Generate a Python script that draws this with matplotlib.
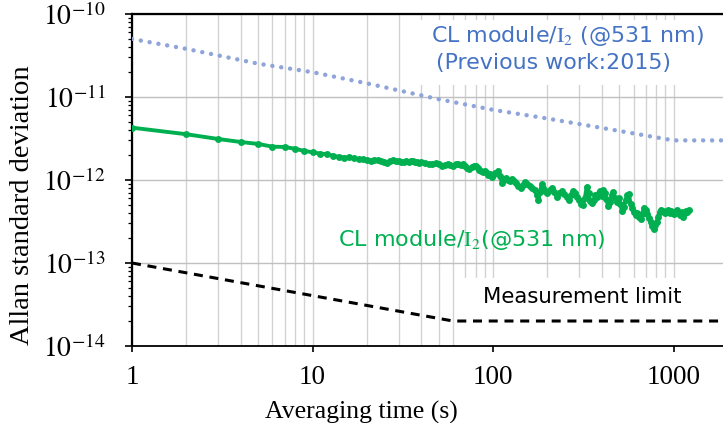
import matplotlib
matplotlib.use("Agg")
import matplotlib.pyplot as plt
from matplotlib.patches import Rectangle
from matplotlib.ticker import LogLocator, NullFormatter

# ---------------- data ----------------
# CL module / I2 at 531 nm (this work)
cl_tau = [1, 2, 3, 4, 5, 6, 7, 8, 9, 10,
          11, 12, 13, 14, 15, 16, 17, 18, 19, 20,
          21, 22, 23, 24, 25, 26, 27, 28, 29, 30,
          31, 32, 33, 34, 35, 36, 37, 38, 39, 40,
          42, 44, 46, 48, 50, 52, 54, 56, 58, 60,
          62, 64, 66, 68, 70, 72, 74, 76, 78, 80,
          82, 84, 86, 88, 90, 92, 94, 96, 98, 100,
          103, 106, 109, 112, 115, 118, 121, 124, 127, 130,
          134, 138, 142, 146, 150, 155, 160, 165, 170, 175,
          178, 182, 186, 190, 195, 200, 206, 212, 218, 225,
          232, 240, 247, 255, 262, 270, 278, 285, 292, 300,
          307, 315, 322, 330, 338, 345, 352, 360, 368, 376,
          384, 392, 400, 408, 416, 424, 434, 444, 454, 464,
          474, 484, 496, 507, 518, 530, 542, 554, 565, 577,
          590, 602, 615, 630, 642, 656, 670, 685, 700, 715,
          730, 745, 760, 775, 790, 805, 820, 835, 850, 870,
          890, 910, 930, 950, 970, 990, 1010, 1030, 1050, 1070,
          1090, 1110, 1130, 1150, 1170, 1190, 1210]
cl_adev = [4.27e-12, 3.56e-12, 3.12e-12, 2.87e-12, 2.72e-12, 2.52e-12, 2.50e-12, 2.38e-12, 2.24e-12, 2.16e-12,
           2.08e-12, 2.05e-12, 1.96e-12, 1.90e-12, 1.86e-12, 1.88e-12, 1.82e-12, 1.78e-12, 1.80e-12, 1.73e-12,
           1.71e-12, 1.76e-12, 1.74e-12, 1.68e-12, 1.64e-12, 1.62e-12, 1.70e-12, 1.75e-12, 1.71e-12, 1.68e-12,
           1.64e-12, 1.67e-12, 1.70e-12, 1.66e-12, 1.69e-12, 1.71e-12, 1.66e-12, 1.63e-12, 1.62e-12, 1.64e-12,
           1.60e-12, 1.54e-12, 1.57e-12, 1.60e-12, 1.56e-12, 1.47e-12, 1.51e-12, 1.54e-12, 1.52e-12, 1.48e-12,
           1.55e-12, 1.58e-12, 1.53e-12, 1.56e-12, 1.47e-12, 1.40e-12, 1.35e-12, 1.42e-12, 1.46e-12, 1.49e-12,
           1.41e-12, 1.32e-12, 1.28e-12, 1.24e-12, 1.30e-12, 1.22e-12, 1.15e-12, 1.18e-12, 1.10e-12, 1.14e-12,
           1.22e-12, 1.27e-12, 1.12e-12, 0.93e-12, 1.02e-12, 1.06e-12, 1.00e-12, 0.97e-12, 1.04e-12, 0.96e-12,
           0.92e-12, 0.84e-12, 0.79e-12, 0.88e-12, 0.95e-12, 0.90e-12, 0.84e-12, 0.79e-12, 0.76e-12, 0.66e-12,
           0.57e-12, 0.72e-12, 0.90e-12, 0.80e-12, 0.74e-12, 0.69e-12, 0.76e-12, 0.81e-12, 0.72e-12, 0.63e-12,
           0.70e-12, 0.74e-12, 0.68e-12, 0.62e-12, 0.58e-12, 0.66e-12, 0.74e-12, 0.70e-12, 0.62e-12, 0.57e-12,
           0.52e-12, 0.50e-12, 0.60e-12, 0.83e-12, 0.70e-12, 0.56e-12, 0.53e-12, 0.57e-12, 0.66e-12, 0.63e-12,
           0.69e-12, 0.73e-12, 0.64e-12, 0.75e-12, 0.70e-12, 0.59e-12, 0.48e-12, 0.54e-12, 0.66e-12, 0.72e-12,
           0.60e-12, 0.54e-12, 0.60e-12, 0.51e-12, 0.42e-12, 0.47e-12, 0.58e-12, 0.66e-12, 0.68e-12, 0.52e-12,
           0.46e-12, 0.41e-12, 0.38e-12, 0.40e-12, 0.36e-12, 0.34e-12, 0.39e-12, 0.46e-12, 0.44e-12, 0.39e-12,
           0.35e-12, 0.31e-12, 0.28e-12, 0.26e-12, 0.29e-12, 0.31e-12, 0.36e-12, 0.41e-12, 0.44e-12, 0.42e-12,
           0.40e-12, 0.41e-12, 0.43e-12, 0.40e-12, 0.42e-12, 0.41e-12, 0.39e-12, 0.41e-12, 0.43e-12, 0.40e-12,
           0.38e-12, 0.41e-12, 0.36e-12, 0.40e-12, 0.42e-12, 0.41e-12, 0.43e-12]

# Previous work (2015)
prev_tau = [1, 2, 5, 10, 20, 50, 100, 200, 500, 1000, 2000]
prev_adev = [5.0e-11, 3.8e-11, 2.52e-11, 1.99e-11, 1.46e-11, 9.4e-12, 7.0e-12, 5.5e-12, 3.9e-12, 3.0e-12, 3.0e-12]

# Measurement limit
limit_tau = [1, 60, 2000]
limit_adev = [1.0e-13, 2.0e-14, 2.0e-14]

x_ticks = [1, 10, 100, 1000]
x_tick_labels = ["1", "10", "100", "1000"]
y_ticks = [1e-14, 1e-13, 1e-12, 1e-11, 1e-10]
y_tick_labels = [r"$10^{-14}$", r"$10^{-13}$", r"$10^{-12}$", r"$10^{-11}$", r"$10^{-10}$"]

# ---------------- style ----------------
W, H = 723, 423
GREEN = "#00B050"
BLUE_DOT = "#8EA4DA"
BLUE_TXT = "#4472C4"
GRID_V = "#D2D2D2"
GRID_H = "#C0C0C0"
SERIF = "Liberation Serif"

fig = plt.figure(figsize=(W / 100, H / 100), dpi=100)
ax = fig.add_axes([132 / W, (H - 346) / H, 596 / W, 332 / H])

ax.set_xscale("log")
ax.set_yscale("log")
ax.set_xlim(1, 2000)
ax.set_ylim(1e-14, 1e-10)

ax.set_axisbelow(True)
ax.grid(True, which="major", axis="x", color=GRID_V, lw=1.0)
ax.grid(True, which="minor", axis="x", color=GRID_V, lw=1.0)
ax.grid(True, which="major", axis="y", color=GRID_H, lw=1.0)

# white label backgrounds that hide the grid
ax.add_patch(Rectangle((0.466, 0.786), 0.6, 0.196, transform=ax.transAxes,
                       facecolor="white", edgecolor="none", zorder=1))
ax.add_patch(Rectangle((0.549, 0.0), 0.6, 0.205, transform=ax.transAxes,
                       facecolor="white", edgecolor="none", zorder=1))

ax.plot(prev_tau, prev_adev, color=BLUE_DOT, lw=3.2, linestyle=(0, (0.01, 2.0)),
        dash_capstyle="round", zorder=3)
ax.plot(limit_tau, limit_adev, color="black", lw=2.2, linestyle=(0, (2.95, 2.2)),
        dash_capstyle="butt", zorder=3)
ax.plot(cl_tau, cl_adev, color=GREEN, lw=2.8, marker="o", markersize=5.0,
        markeredgewidth=0, zorder=4)

# spines
for side in ("top", "left", "bottom"):
    ax.spines[side].set_color("black")
ax.spines["top"].set_linewidth(1.6)
ax.spines["left"].set_linewidth(1.6)
ax.spines["bottom"].set_linewidth(1.3)
ax.spines["right"].set_visible(False)

# ticks
ax.set_xticks(x_ticks)
ax.set_xticklabels(x_tick_labels, fontfamily=SERIF, fontsize=19.5)
ax.xaxis.set_minor_formatter(NullFormatter())
ax.tick_params(axis="x", which="major", direction="out", length=4, width=1.2, pad=10)
ax.tick_params(axis="x", which="minor", length=0)

ax.set_yticks(y_ticks)
ax.set_yticklabels(y_tick_labels, fontsize=20)
for t in ax.get_yticklabels():
    t.set_math_fontfamily("stix")
ax.yaxis.set_minor_locator(LogLocator(base=10, subs=range(2, 10), numticks=20))
ax.yaxis.set_minor_formatter(NullFormatter())
ax.tick_params(axis="y", which="major", direction="out", length=5, width=1.2, pad=14)
ax.tick_params(axis="y", which="minor", direction="out", length=3, width=0.9)

# axis titles
fig.text(23 / W, 1 - 205 / H, "Allan standard deviation", rotation=90,
         ha="center", va="center", fontfamily=SERIF, fontsize=20.5)
fig.text(361 / W, 1 - 419 / H, "Averaging time (s)", ha="center", va="baseline",
         fontfamily=SERIF, fontsize=18.5)

# series labels
t1 = fig.text(567 / W, 1 - 36 / H, r"CL module/$\mathrm{I}_{2}$ (@531 nm)", ha="center", va="center",
              color=BLUE_TXT, fontfamily="DejaVu Sans", fontsize=15.9)
t1.set_math_fontfamily("stix")
fig.text(554 / W, 1 - 63 / H, "(Previous work:2015)", ha="center", va="center",
         color=BLUE_TXT, fontfamily="DejaVu Sans", fontsize=15.9)
t2 = fig.text(472 / W, 1 - 240 / H, r"CL module/$\mathrm{I}_{2}$(@531 nm)", ha="center", va="center",
              color=GREEN, fontfamily="DejaVu Sans", fontsize=16)
t2.set_math_fontfamily("stix")
fig.text(582 / W, 1 - 297 / H, "Measurement limit", ha="center", va="center",
         color="black", fontfamily="DejaVu Sans", fontsize=15.3)

fig.savefig("out.png", dpi=100)
